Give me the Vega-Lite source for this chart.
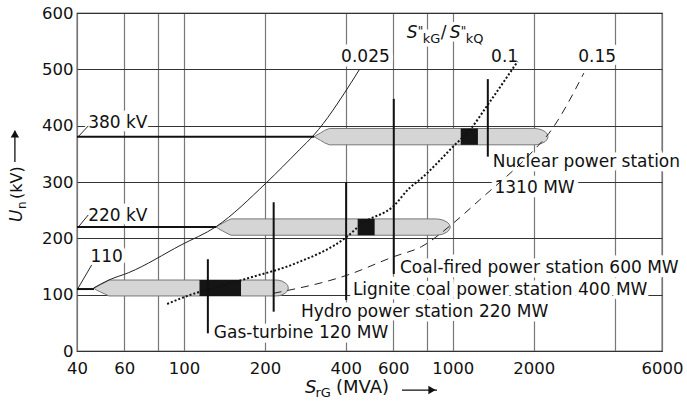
{
  "$schema": "https://vega.github.io/schema/vega-lite/v6.json",
  "width": 585,
  "height": 338,
  "autosize": {"type": "none"},
  "padding": {"left": 77, "top": 13, "right": 25, "bottom": 58},
  "background": "white",
  "config": {
    "view": {"stroke": "#000", "strokeWidth": 1.2},
    "font": "DejaVu Sans",
    "axis": {"labelFont": "DejaVu Sans", "labelFontSize": 16.5, "labelColor": "#111", "ticks": false, "domain": false, "grid": true, "title": null}
  },
  "datasets": {
    "bars": [
      {"bar": "380", "s": 305.4, "u": 380.5, "u2": 380.5},
      {"bar": "380", "s": 312.6, "u": 377.3, "u2": 383.7},
      {"bar": "380", "s": 322.2, "u": 373.9, "u2": 387.1},
      {"bar": "380", "s": 333.4, "u": 369.5, "u2": 391.5},
      {"bar": "380", "s": 347.4, "u": 366, "u2": 395},
      {"bar": "380", "s": 2007, "u": 366, "u2": 395},
      {"bar": "380", "s": 2067, "u": 366.5, "u2": 394.5},
      {"bar": "380", "s": 2130, "u": 368, "u2": 393},
      {"bar": "380", "s": 2208, "u": 371.8, "u2": 389.2},
      {"bar": "380", "s": 2246, "u": 376, "u2": 385},
      {"bar": "380", "s": 2261, "u": 380.5, "u2": 380.5},
      {"bar": "220", "s": 131.7, "u": 220, "u2": 220},
      {"bar": "220", "s": 134.8, "u": 216.8, "u2": 223.2},
      {"bar": "220", "s": 138.8, "u": 213.5, "u2": 226.5},
      {"bar": "220", "s": 143.7, "u": 209.6, "u2": 230.4},
      {"bar": "220", "s": 149.7, "u": 205.5, "u2": 234.5},
      {"bar": "220", "s": 860, "u": 205.5, "u2": 234.5},
      {"bar": "220", "s": 888.4, "u": 206, "u2": 234},
      {"bar": "220", "s": 917.3, "u": 207.4, "u2": 232.6},
      {"bar": "220", "s": 953.5, "u": 211.3, "u2": 228.7},
      {"bar": "220", "s": 971, "u": 215.5, "u2": 224.5},
      {"bar": "220", "s": 978.6, "u": 220, "u2": 220},
      {"bar": "110", "s": 46.27, "u": 111, "u2": 111},
      {"bar": "110", "s": 47.42, "u": 107.9, "u2": 114.1},
      {"bar": "110", "s": 48.94, "u": 104.6, "u2": 117.8},
      {"bar": "110", "s": 50.79, "u": 101.2, "u2": 121.8},
      {"bar": "110", "s": 52.6, "u": 97.7, "u2": 126},
      {"bar": "110", "s": 219.9, "u": 97.7, "u2": 126},
      {"bar": "110", "s": 225.8, "u": 98.1, "u2": 125.5},
      {"bar": "110", "s": 231.6, "u": 99.6, "u2": 124.1},
      {"bar": "110", "s": 239.1, "u": 103.3, "u2": 120.3},
      {"bar": "110", "s": 243.1, "u": 107.4, "u2": 116.2},
      {"bar": "110", "s": 244.4, "u": 111.8, "u2": 111.8}
    ],
    "boxes": [
      {"s": 1070, "s2": 1240, "u": 366, "u2": 395},
      {"s": 442.6, "s2": 512, "u": 205.5, "u2": 234.5},
      {"s": 114.2, "s2": 163, "u": 97.7, "u2": 126}
    ],
    "levels": [
      {"s": 40, "s2": 305.4, "u": 380.5},
      {"s": 40, "s2": 131.7, "u": 220},
      {"s": 40, "s2": 46.27, "u": 110}
    ],
    "leaders": [
      {"s": 40.45, "s2": 44.06, "u": 380.5, "u2": 399.6},
      {"s": 40.45, "s2": 44.06, "u": 220, "u2": 241.6},
      {"s": 40.2, "s2": 45.36, "u": 110, "u2": 152.8}
    ],
    "stations": [
      {"name": "Gas-turbine", "s": 122.7, "u": 31.4, "u2": 162.9},
      {"name": "Hydro", "s": 215.6, "u": 69.8, "u2": 264.1},
      {"name": "Lignite", "s": 401, "u": 90.6, "u2": 299.6},
      {"name": "Coal-fired", "s": 603.2, "u": 136.8, "u2": 447.6},
      {"name": "Nuclear", "s": 1349.6, "u": 345, "u2": 482.6}
    ],
    "curves": [
      {"c": "0.025", "s": 46.1, "u": 111.9},
      {"c": "0.025", "s": 52.6, "u": 126.1},
      {"c": "0.025", "s": 62.3, "u": 139.1},
      {"c": "0.025", "s": 97.6, "u": 188.3},
      {"c": "0.025", "s": 131.7, "u": 220.8},
      {"c": "0.025", "s": 201.7, "u": 297.9},
      {"c": "0.025", "s": 268.5, "u": 357},
      {"c": "0.025", "s": 304.6, "u": 383.7},
      {"c": "0.025", "s": 418.2, "u": 476},
      {"c": "0.025", "s": 448.6, "u": 499.1},
      {"c": "0.1", "s": 86.6, "u": 83.5},
      {"c": "0.1", "s": 97.6, "u": 93.6},
      {"c": "0.1", "s": 172.6, "u": 129.1},
      {"c": "0.1", "s": 260.9, "u": 155.8},
      {"c": "0.1", "s": 401.4, "u": 202},
      {"c": "0.1", "s": 461.6, "u": 226.8},
      {"c": "0.1", "s": 603, "u": 257.5},
      {"c": "0.1", "s": 689, "u": 289},
      {"c": "0.1", "s": 765, "u": 306.7},
      {"c": "0.1", "s": 1003, "u": 362.9},
      {"c": "0.1", "s": 1171, "u": 395.6},
      {"c": "0.1", "s": 1349, "u": 437},
      {"c": "0.1", "s": 1742, "u": 513.9},
      {"c": "0.15", "s": 215.4, "u": 102.5},
      {"c": "0.15", "s": 406.8, "u": 135},
      {"c": "0.15", "s": 603, "u": 167.5},
      {"c": "0.15", "s": 765, "u": 185.3},
      {"c": "0.15", "s": 1003, "u": 226.8},
      {"c": "0.15", "s": 1258, "u": 268.2},
      {"c": "0.15", "s": 1979, "u": 354},
      {"c": "0.15", "s": 2280, "u": 386.7},
      {"c": "0.15", "s": 3072, "u": 493.3}
    ],
    "labels": [
      {"t": "Nuclear power station", "s": 1408, "u": 327.4},
      {"t": "1310 MW", "s": 1429, "u": 281.2},
      {"t": "Coal-fired power station 600 MW", "s": 636, "u": 139.1},
      {"t": "Lignite coal power station 400 MW", "s": 424.9, "u": 99.5},
      {"t": "Hydro power station 220 MW", "s": 272.4, "u": 61},
      {"t": "Gas-turbine 120 MW", "s": 129.1, "u": 22.6},
      {"t": "380 kV", "s": 44, "u": 395.6},
      {"t": "220 kV", "s": 44, "u": 231.4},
      {"t": "110", "s": 44.9, "u": 158.6},
      {"t": "0.025", "s": 384.1, "u": 513.9},
      {"t": "0.1", "s": 1388, "u": 513.9},
      {"t": "0.15", "s": 2926, "u": 513.9}
    ],
    "ratio": [{"s": 673.7, "u": 555.4}],
    "xtitle": [{"s": 281.9, "u": -74.6}],
    "xarrow": [{"s": 647.2, "s2": 873.6, "u": -69.3}],
    "xhead": [{"s": 836.8, "u": -69.3}],
    "ytitle": [{"s": 24.97, "u": 229.1}],
    "yarrow": [{"s": 23.5, "u": 335.7, "u2": 391}],
    "yhead": [{"s": 23.5, "u": 385.4}]
  },
  "encoding": {
    "x": {
      "field": "s", "type": "quantitative",
      "scale": {"type": "log", "domain": [40, 6000], "nice": false},
      "axis": {
        "values": [40, 60, 80, 100, 200, 400, 600, 800, 1000, 2000, 4000, 6000],
        "format": "d",
        "labelExpr": "(datum.value == 80 || datum.value == 800 || datum.value == 4000) ? '' : datum.label",
        "labelFlush": false, "labelOverlap": false, "labelPadding": 9,
        "gridColor": "#777", "gridWidth": 1.2
      }
    },
    "y": {
      "field": "u", "type": "quantitative",
      "scale": {"domain": [0, 600], "nice": false, "zero": false},
      "axis": {"values": [0, 100, 200, 300, 400, 500, 600], "labelPadding": 4, "gridColor": "#333", "gridWidth": 1}
    }
  },
  "layer": [
    {"data": {"name": "labels"}, "mark": {"type": "text", "align": "left", "baseline": "alphabetic", "fontSize": 17, "fill": "white", "stroke": "white", "strokeWidth": 9, "strokeJoin": "round", "clip": false}, "encoding": {"text": {"field": "t"}}},
    {"data": {"name": "ratio"}, "mark": {"type": "text", "text": "S", "fontStyle": "italic", "align": "left", "baseline": "alphabetic", "fontSize": 17, "fill": "white", "stroke": "white", "strokeWidth": 7}},
    {"data": {"name": "ratio"}, "mark": {"type": "text", "text": "kG", "align": "left", "baseline": "alphabetic", "fontSize": 13, "dx": 16, "dy": 5, "fill": "white", "stroke": "white", "strokeWidth": 7}},
    {"data": {"name": "ratio"}, "mark": {"type": "text", "text": "/", "align": "left", "baseline": "alphabetic", "fontSize": 17, "dx": 34, "fill": "white", "stroke": "white", "strokeWidth": 7}},
    {"data": {"name": "ratio"}, "mark": {"type": "text", "text": "S", "fontStyle": "italic", "align": "left", "baseline": "alphabetic", "fontSize": 17, "dx": 43, "fill": "white", "stroke": "white", "strokeWidth": 7}},
    {"data": {"name": "ratio"}, "mark": {"type": "text", "text": "kQ", "align": "left", "baseline": "alphabetic", "fontSize": 13, "dx": 59, "dy": 5, "fill": "white", "stroke": "white", "strokeWidth": 7}},

    {"data": {"name": "bars"}, "transform": [{"filter": "datum.bar == '380'"}], "mark": {"type": "area", "fill": "#d5d5d5", "stroke": "#777", "strokeWidth": 1}, "encoding": {"y2": {"field": "u2"}}},
    {"data": {"name": "bars"}, "transform": [{"filter": "datum.bar == '220'"}], "mark": {"type": "area", "fill": "#d5d5d5", "stroke": "#777", "strokeWidth": 1}, "encoding": {"y2": {"field": "u2"}}},
    {"data": {"name": "bars"}, "transform": [{"filter": "datum.bar == '110'"}], "mark": {"type": "area", "fill": "#d5d5d5", "stroke": "#777", "strokeWidth": 1}, "encoding": {"y2": {"field": "u2"}}},
    {"data": {"name": "boxes"}, "mark": {"type": "rect", "fill": "#151515"}, "encoding": {"x2": {"field": "s2"}, "y2": {"field": "u2"}}},

    {"data": {"name": "curves"}, "transform": [{"filter": "datum.c == '0.025'"}], "mark": {"type": "line", "interpolate": "monotone", "stroke": "#222", "strokeWidth": 1}},
    {"data": {"name": "curves"}, "transform": [{"filter": "datum.c == '0.1'"}], "mark": {"type": "line", "interpolate": "monotone", "stroke": "#111", "strokeWidth": 2, "strokeDash": [2, 2]}},
    {"data": {"name": "curves"}, "transform": [{"filter": "datum.c == '0.15'"}], "mark": {"type": "line", "interpolate": "monotone", "stroke": "#222", "strokeWidth": 1, "strokeDash": [8, 6]}},

    {"data": {"name": "levels"}, "mark": {"type": "rule", "stroke": "#111", "strokeWidth": 2}, "encoding": {"x2": {"field": "s2"}}},
    {"data": {"name": "leaders"}, "mark": {"type": "rule", "stroke": "#111", "strokeWidth": 0.9}, "encoding": {"x2": {"field": "s2"}, "y2": {"field": "u2"}}},
    {"data": {"name": "stations"}, "mark": {"type": "rule", "stroke": "#111", "strokeWidth": 2}, "encoding": {"y2": {"field": "u2"}}},

    {"data": {"name": "labels"}, "mark": {"type": "text", "align": "left", "baseline": "alphabetic", "fontSize": 17, "fill": "#111", "clip": false}, "encoding": {"text": {"field": "t"}}},
    {"data": {"name": "ratio"}, "mark": {"type": "text", "text": "S", "fontStyle": "italic", "align": "left", "baseline": "alphabetic", "fontSize": 17, "fill": "#111"}},
    {"data": {"name": "ratio"}, "mark": {"type": "text", "text": "\"", "align": "left", "baseline": "alphabetic", "fontSize": 12, "dx": 11, "dy": -3, "fill": "#111"}},
    {"data": {"name": "ratio"}, "mark": {"type": "text", "text": "kG", "align": "left", "baseline": "alphabetic", "fontSize": 13, "dx": 16, "dy": 5, "fill": "#111"}},
    {"data": {"name": "ratio"}, "mark": {"type": "text", "text": "/", "align": "left", "baseline": "alphabetic", "fontSize": 17, "dx": 34, "fill": "#111"}},
    {"data": {"name": "ratio"}, "mark": {"type": "text", "text": "S", "fontStyle": "italic", "align": "left", "baseline": "alphabetic", "fontSize": 17, "dx": 43, "fill": "#111"}},
    {"data": {"name": "ratio"}, "mark": {"type": "text", "text": "\"", "align": "left", "baseline": "alphabetic", "fontSize": 12, "dx": 54, "dy": -3, "fill": "#111"}},
    {"data": {"name": "ratio"}, "mark": {"type": "text", "text": "kQ", "align": "left", "baseline": "alphabetic", "fontSize": 13, "dx": 59, "dy": 5, "fill": "#111"}},

    {"data": {"name": "xtitle"}, "mark": {"type": "text", "text": "S", "fontStyle": "italic", "align": "left", "baseline": "alphabetic", "fontSize": 18, "fill": "#111", "clip": false}},
    {"data": {"name": "xtitle"}, "mark": {"type": "text", "text": "rG", "align": "left", "baseline": "alphabetic", "fontSize": 13, "dx": 10.5, "dy": 4, "fill": "#111", "clip": false}},
    {"data": {"name": "xtitle"}, "mark": {"type": "text", "text": "(MVA)", "align": "left", "baseline": "alphabetic", "fontSize": 18, "dx": 31, "fill": "#111", "clip": false}},
    {"data": {"name": "xarrow"}, "mark": {"type": "rule", "stroke": "#111", "strokeWidth": 1.3, "clip": false}, "encoding": {"x2": {"field": "s2"}}},
    {"data": {"name": "xhead"}, "mark": {"type": "point", "shape": "triangle-right", "filled": true, "fill": "#111", "size": 70, "opacity": 1, "clip": false}},

    {"data": {"name": "ytitle"}, "mark": {"type": "text", "text": "U", "fontStyle": "italic", "angle": 270, "align": "left", "baseline": "alphabetic", "fontSize": 17, "fill": "#111", "clip": false}},
    {"data": {"name": "ytitle"}, "mark": {"type": "text", "text": "n", "angle": 270, "align": "left", "baseline": "alphabetic", "fontSize": 12, "dx": 13, "dy": 4, "fill": "#111", "clip": false}},
    {"data": {"name": "ytitle"}, "mark": {"type": "text", "text": "(kV)", "angle": 270, "align": "left", "baseline": "alphabetic", "fontSize": 16, "dx": 23, "fill": "#111", "clip": false}},
    {"data": {"name": "yarrow"}, "mark": {"type": "rule", "stroke": "#111", "strokeWidth": 1.3, "clip": false}, "encoding": {"y2": {"field": "u2"}}},
    {"data": {"name": "yhead"}, "mark": {"type": "point", "shape": "triangle-up", "filled": true, "fill": "#111", "size": 70, "opacity": 1, "clip": false}}
  ]
}
